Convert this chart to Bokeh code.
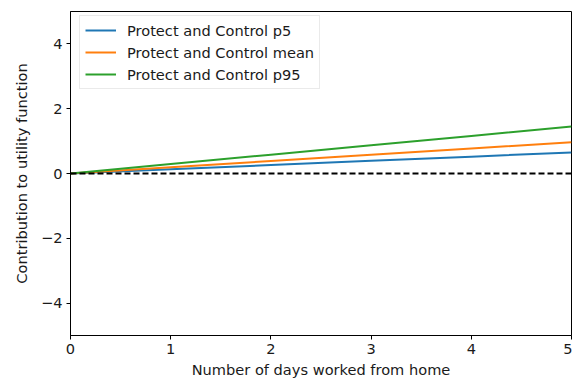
from bokeh.plotting import figure
from bokeh.models import Legend, LegendItem, Range1d, FixedTicker
from bokeh.embed import file_html
from bokeh.resources import INLINE

# Days worked from home and the utility contribution for each percentile
days = [0, 1, 2, 3, 4, 5]
p5 = [0.0, 0.13, 0.26, 0.39, 0.52, 0.65]
mean = [0.0, 0.193, 0.386, 0.579, 0.772, 0.965]
p95 = [0.0, 0.29, 0.58, 0.87, 1.16, 1.45]
baseline = [0, 0, 0, 0, 0, 0]

series_labels = ["Protect and Control p5", "Protect and Control mean", "Protect and Control p95"]
series_colors = ["#1f77b4", "#ff7f0e", "#2ca02c"]
x_ticks = [0, 1, 2, 3, 4, 5]
y_ticks = [-4, -2, 0, 2, 4]

FONT = "DejaVu Sans"
FS = "14.6px"

p = figure(width=572, height=383, output_backend="svg", toolbar_location=None,
           x_range=Range1d(0, 5), y_range=Range1d(-5, 5),
           min_border_left=70, min_border_right=1, min_border_top=11, min_border_bottom=48)
p.grid.visible = False
p.outline_line_color = "black"
p.outline_line_width = 1
p.background_fill_color = "white"
p.border_fill_color = "white"

renderers = []
for vals, color in zip([p5, mean, p95], series_colors):
    r = p.line(days, vals, line_color=color, line_width=2)
    renderers.append(r)

p.line(days, baseline, line_color="black", line_width=2, line_dash="6 3")

for ax in (p.xaxis[0], p.yaxis[0]):
    ax.major_tick_out = 4
    ax.major_tick_in = 0
    ax.minor_tick_out = 0
    ax.minor_tick_in = 0
    ax.axis_line_color = "black"
    ax.major_tick_line_color = "black"
    ax.major_label_text_font = FONT
    ax.major_label_text_font_size = FS
    ax.major_label_text_color = "#1a1a1a"
    ax.axis_label_text_font = FONT
    ax.axis_label_text_font_size = FS
    ax.axis_label_text_font_style = "normal"
    ax.axis_label_text_color = "#1a1a1a"

p.xaxis[0].ticker = FixedTicker(ticks=x_ticks)
p.yaxis[0].ticker = FixedTicker(ticks=y_ticks)
p.yaxis[0].major_label_overrides = {v: str(v).replace("-", "\u2212") for v in y_ticks}
p.xaxis[0].axis_label = "Number of days worked from home"
p.yaxis[0].axis_label = "Contribution to utility function"
p.xaxis[0].axis_label_standoff = 4
p.yaxis[0].axis_label_standoff = 8
p.xaxis[0].major_label_standoff = 4
p.yaxis[0].major_label_standoff = 4

legend = Legend(items=[LegendItem(label=lab, renderers=[r]) for lab, r in zip(series_labels, renderers)],
                location=(9, 246))
legend.label_text_font = FONT
legend.label_text_font_size = FS
legend.label_text_color = "#1a1a1a"
legend.glyph_width = 31
legend.glyph_height = 18
legend.label_height = 18
legend.spacing = 4
legend.padding = 5
legend.label_standoff = 11
legend.border_line_color = "#d5d5d5"
legend.border_line_width = 1
legend.background_fill_alpha = 0.85
legend.margin = 0
p.add_layout(legend)

open("out.html", "w").write(file_html(p, INLINE))
